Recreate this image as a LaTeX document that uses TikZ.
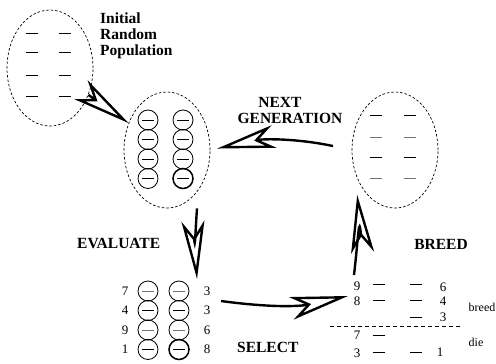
\documentclass[tikz,border=0pt]{standalone}
\usepackage{fontspec}
\setmainfont{Liberation Serif}
\usetikzlibrary{arrows.meta}
\usetikzlibrary{shapes.geometric}

\newcommand{\mem}[1][black]{\textcolor{#1}{\rule{12pt}{0.9pt}}}

\begin{document}
\begin{tikzpicture}[x=1pt, y=-1pt,
		pool/.style={draw, ellipse, dash pattern=on 2.5pt off 2pt, line width=0.7pt, minimum width=86pt, minimum height=116pt, inner sep=0pt},
		indiv/.style={draw, circle, line width=0.8pt, minimum size=20pt, inner sep=0pt},
		best/.style={indiv, line width=1.5pt},
		member/.style={inner sep=0pt},
		score/.style={inner sep=0pt, font=\fontsize{13}{14}\selectfont},
		note/.style={inner sep=0pt, font=\fontsize{12}{13}\selectfont},
		lbl/.style={inner sep=0pt, font=\fontsize{15.5}{16}\selectfont\bfseries},
		cyc/.style={line width=2.4pt, -{Stealth[open, length=58pt, width=23pt, inset=16pt]}},
	]
		\useasboundingbox (0,0) rectangle (496,364);

		% the three populations
		\node[pool] (init) at (50,68) {};
		\node[pool] (pop) at (167,150) {};
		\node[pool] (next) at (395,150) {};

		\foreach \y [count=\r] in {33,52,75,96}
			\foreach \x [count=\c] in {32,65}
				\node[member] (i\r\c) at (\x,\y) {\mem};

		\foreach \y [count=\r] in {120,139.5,159} {
			\node[indiv] (p\r1) at (148,\y) {\mem};
			\node[indiv] (p\r2) at (183,\y) {\mem};
		}
		\node[indiv] (p41) at (148,178.5) {\mem};
		\node[best] (p42) at (183,178.5) {\mem};

		\foreach \y/\col [count=\r] in {115/black,137/black!55,157/black,178/black!55} {
			\node[member] (n\r1) at (376,\y) {\mem[\col]};
			\node[member] (n\r2) at (410,\y) {\mem[\col]};
		}

		% evaluated population
		\foreach \y/\a/\b/\col [count=\r] in {291/7/3/black!55, 310.5/4/3/black, 330/9/6/black!55} {
			\node[score] (sl\r) at (125,\y) {\a};
			\node[indiv] (e\r1) at (148,\y) {\mem[\col]};
			\node[indiv] (e\r2) at (179,\y) {\mem[\col]};
			\node[score] (sr\r) at (207,\y) {\b};
		}
		\node[score] (sl4) at (125,349.5) {1};
		\node[indiv] (e41) at (148,349.5) {\mem};
		\node[best] (e42) at (179,349.5) {\mem};
		\node[score] (sr4) at (207,349.5) {8};

		% breeding table
		\node[score] (bl1) at (357,286.5) {9};
		\node[score] (bl2) at (357,301.5) {8};
		\node[score] (bl4) at (357,335) {7};
		\node[score] (bl5) at (357,353) {3};
		\node[member] (b11) at (378.5,284.5) {\mem};
		\node[member] (b12) at (416,284.5) {\mem};
		\node[member] (b21) at (378.5,300.5) {\mem};
		\node[member] (b22) at (416,300.5) {\mem};
		\node[member] (b32) at (416,317) {\mem};
		\node[member] (b41) at (378.5,335) {\mem};
		\node[member] (b51) at (378.5,352.5) {\mem};
		\node[member] (b52) at (416,352.5) {\mem};
		\node[score] (br1) at (443,287.5) {6};
		\node[score] (br2) at (443,301.5) {4};
		\node[score] (br3) at (443,317) {3};
		\node[score] (br5) at (440,352.5) {1};
		\draw[dash pattern=on 4pt off 3pt, line width=0.6pt] (330,326) -- (463,326);
		\node[note] (brd) at (482,307.5) {breed};
		\node[note] (die) at (476,342.5) {die};

		% labels
		\node[lbl, align=left, anchor=north west] (title) at (100,12.5) {Initial\\Random\\Population};
		\node[lbl, align=center, anchor=north] (nxtlbl) at (290,97.5) {NEXT\hspace*{20pt}\\GENERATION};
		\node[lbl, anchor=base west] (evl) at (77,248) {EVALUATE};
		\node[lbl, anchor=base west] (sel) at (237,352) {SELECT};
		\node[lbl, anchor=base] (brl) at (441,249) {BREED};

		% the cycle
		\coordinate (evtip) at (197,279);
		\coordinate (selfrom) at (221,301);
		\coordinate (seltip) at (348,296);
		\coordinate (brfrom) at (354,275);

		\draw[cyc] (init) -- (pop);
		\draw[cyc] ([xshift=30pt]pop.south) to[bend right=4] (evtip);
		\draw[cyc] (selfrom) to[bend right=10] (seltip);
		\draw[cyc, shorten >=22pt] (brfrom) to[bend right=6] (next.-150);
		\draw[cyc, shorten <=19pt, shorten >=7pt] (next.west) to[bend right=12] (pop.east);
	\end{tikzpicture}
\end{document}
